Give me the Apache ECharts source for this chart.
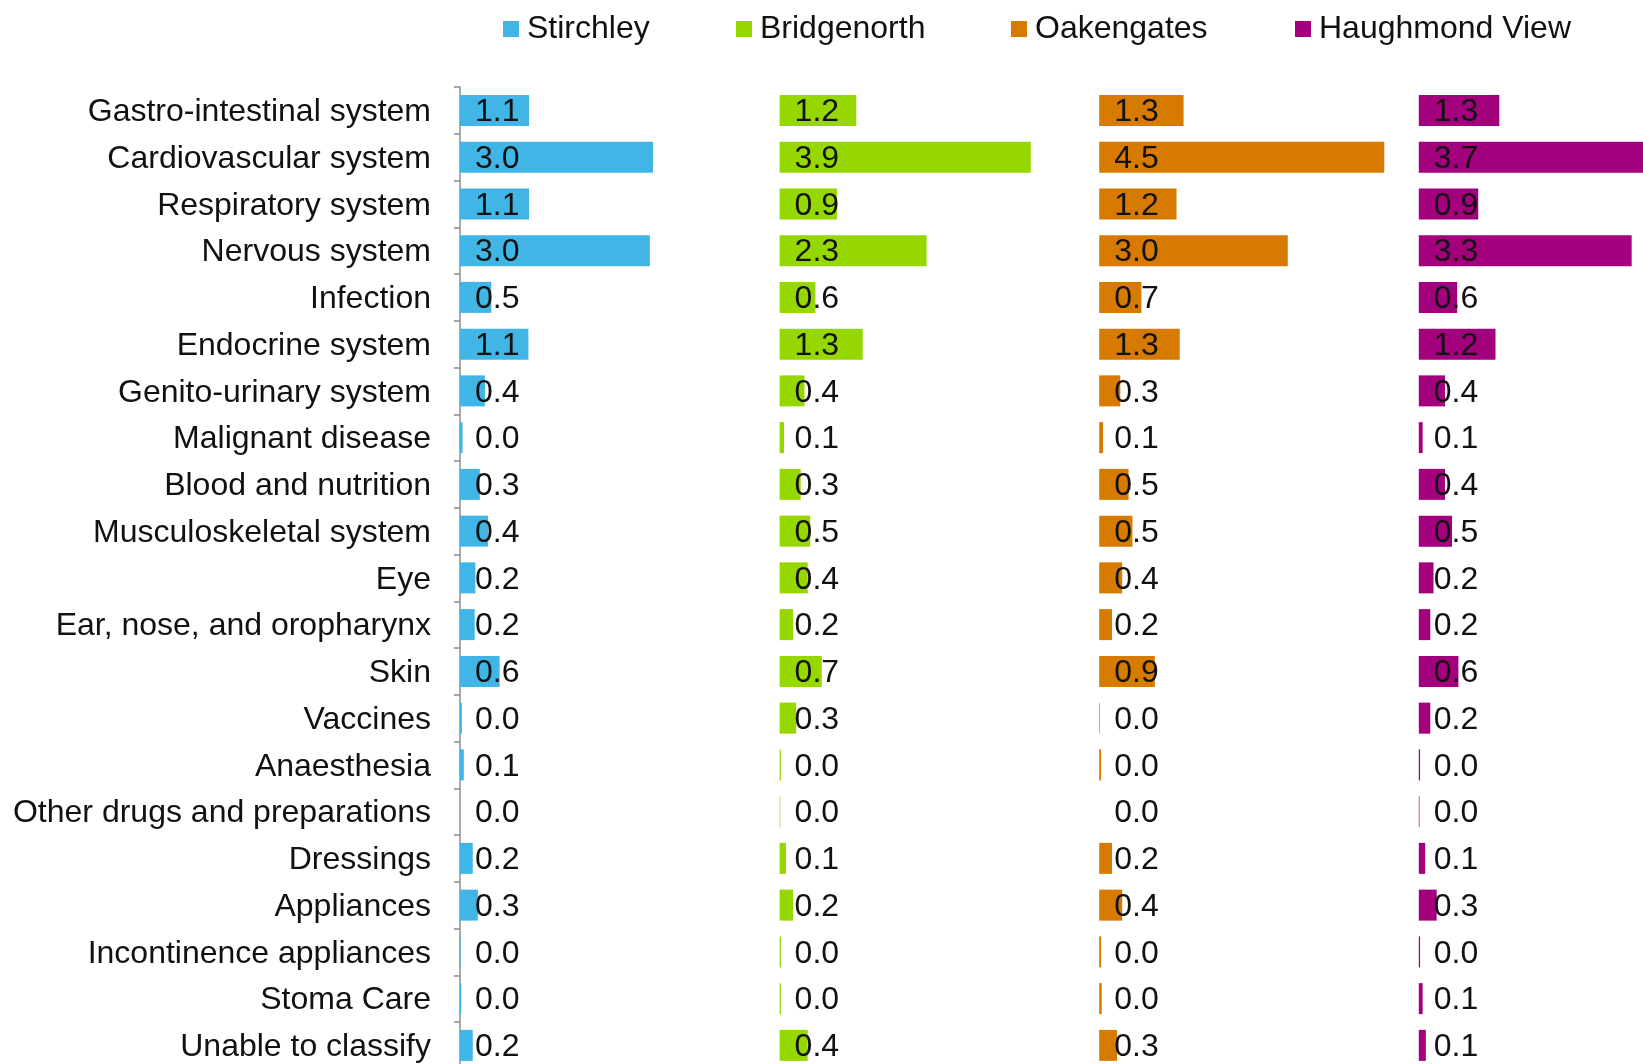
<!DOCTYPE html>
<html>
<head>
<meta charset="utf-8">
<script src="https://cdn.jsdelivr.net/npm/echarts@6/dist/echarts.min.js"></script>
<style>
  html, body { margin: 0; padding: 0; background: #fff; }
  #chart { width: 1643px; height: 1064px; }
</style>
</head>
<body>
<div id="chart"></div>
<script>
// categories, top to bottom
var categories = [
    "Gastro-intestinal system", "Cardiovascular system", "Respiratory system",
    "Nervous system", "Infection", "Endocrine system", "Genito-urinary system",
    "Malignant disease", "Blood and nutrition", "Musculoskeletal system", "Eye",
    "Ear, nose, and oropharynx", "Skin", "Vaccines", "Anaesthesia",
    "Other drugs and preparations", "Dressings", "Appliances",
    "Incontinence appliances", "Stoma Care", "Unable to classify"
];

var seriesNames = ["Stirchley", "Bridgenorth", "Oakengates", "Haughmond View"];

// values (labels show one decimal)
var stirchley   = [1.08, 3.02, 1.08, 2.97, 0.49, 1.07, 0.39, 0.04, 0.31, 0.44, 0.24, 0.23, 0.62, 0.03, 0.06, 0.00, 0.20, 0.28, 0.01, 0.02, 0.20];
var bridgenorth = [1.20, 3.93, 0.90, 2.30, 0.56, 1.30, 0.39, 0.07, 0.33, 0.48, 0.44, 0.21, 0.66, 0.26, 0.02, 0.01, 0.10, 0.21, 0.02, 0.02, 0.44];
var oakengates  = [1.32, 4.46, 1.21, 2.95, 0.66, 1.26, 0.33, 0.06, 0.46, 0.52, 0.36, 0.20, 0.87, 0.01, 0.03, 0.00, 0.20, 0.36, 0.03, 0.04, 0.28];
var haughmond   = [1.26, 3.70, 0.93, 3.33, 0.60, 1.20, 0.41, 0.06, 0.41, 0.52, 0.23, 0.18, 0.62, 0.18, 0.02, 0.01, 0.10, 0.28, 0.02, 0.06, 0.11];

var seriesData = [stirchley, bridgenorth, oakengates, haughmond];
var colors = ["#41b6e6", "#97d700", "#d67b00", "#a3007d"];

// each panel is 5 units wide, the last one runs off the page edge
var panelMax = 5;
var panelWidth = 319.6;
var legendLeft = [498, 731, 1006, 1290];

var myChart = echarts.init(document.getElementById('chart'));

var grids = [], xAxes = [], yAxes = [], series = [], legends = [];
for (var i = 0; i < 4; i++) {
    grids.push({
        left: 460 + panelWidth * i,
        top: 87,
        width: panelWidth,
        height: 981.75,
        outerBoundsMode: 'none'
    });
    xAxes.push({ gridIndex: i, type: 'value', min: 0, max: panelMax, show: false });
    yAxes.push({
        gridIndex: i,
        type: 'category',
        inverse: true,
        data: categories,
        show: i === 0,
        axisLine: { show: true, lineStyle: { color: '#8c8c8c', width: 1.5 } },
        axisTick: { show: true, length: 6, lineStyle: { color: '#8c8c8c', width: 1.5 } },
        axisLabel: {
            margin: 29,
            formatter: function (v) { return '{c|' + v + '}'; },
            rich: {
                c: {
                    padding: [4, 0, 0, 0],
                    fontFamily: 'Liberation Sans, Arial, sans-serif',
                    fontSize: 32,
                    color: '#111'
                }
            }
        }
    });
    series.push({
        name: seriesNames[i],
        type: 'bar',
        xAxisIndex: i,
        yAxisIndex: i,
        data: seriesData[i],
        barWidth: 31,
        itemStyle: { color: colors[i] },
        label: {
            show: true,
            position: [15, '50%'],
            offset: [0, 2],
            verticalAlign: 'middle',
            align: 'left',
            fontFamily: 'Liberation Sans, Arial, sans-serif',
            fontSize: 32,
            color: '#111',
            formatter: function (p) { return p.value.toFixed(1); }
        },
        animation: false
    });
    legends.push({
        data: [seriesNames[i]],
        left: legendLeft[i],
        top: 8,
        itemWidth: 16,
        itemHeight: 16,
        icon: 'rect',
        itemGap: 0,
        textStyle: {
            fontFamily: 'Liberation Sans, Arial, sans-serif',
            fontSize: 32,
            color: '#111',
            padding: [0, 0, 0, 3]
        }
    });
}

var option = {
    backgroundColor: '#fff',
    legend: legends,
    grid: grids,
    xAxis: xAxes,
    yAxis: yAxes,
    series: series
};

myChart.setOption(option);
</script>
</body>
</html>
